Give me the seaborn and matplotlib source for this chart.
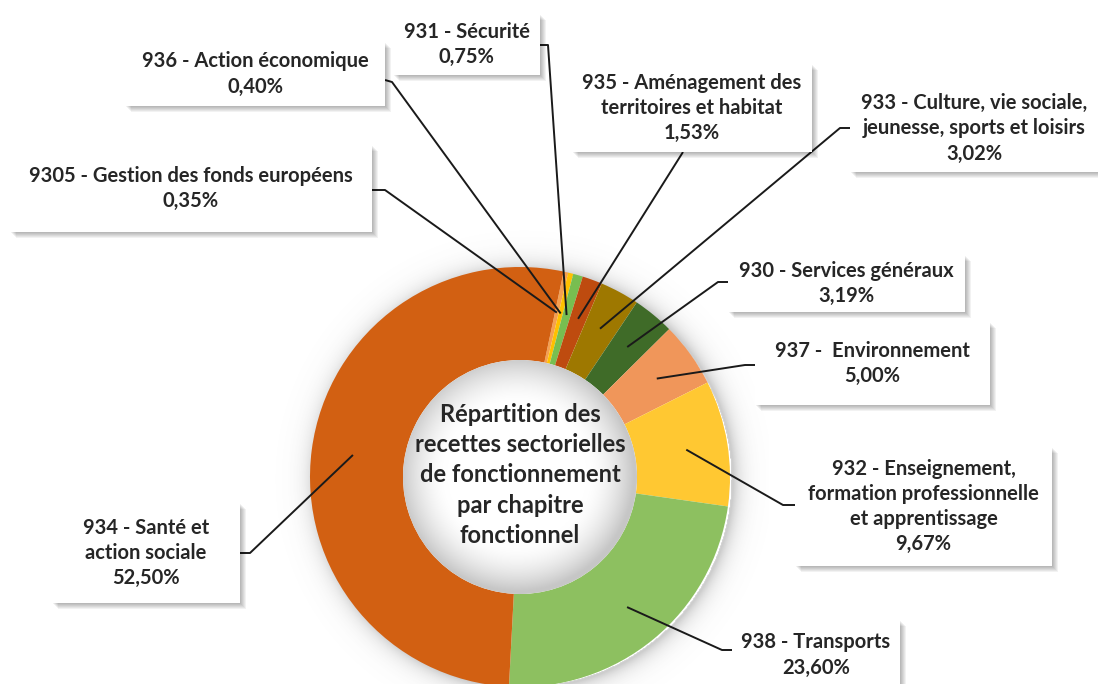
import numpy as np
import matplotlib
matplotlib.use("Agg")
import matplotlib.pyplot as plt
import seaborn as sns
from matplotlib.patches import Rectangle, Circle

sns.set_theme(style="white")
plt.rcParams['font.family'] = ['Lato', 'DejaVu Sans']

# ---------------- data ----------------
codes = ["9305", "936", "931", "935", "933", "930", "937", "932", "938", "934"]
names = [
    "9305 - Gestion des fonds européens",
    "936 - Action économique",
    "931 - Sécurité",
    "935 - Aménagement des\nterritoires et habitat",
    "933 - Culture, vie sociale,\njeunesse, sports et loisirs",
    "930 - Services généraux",
    "937 -  Environnement",
    "932 - Enseignement,\nformation professionnelle\net apprentissage",
    "938 - Transports",
    "934 - Santé et\naction sociale",
]
values = [0.35, 0.40, 0.75, 1.53, 3.02, 3.19, 5.00, 9.67, 23.60, 52.50]
pct_labels = ["0,35%", "0,40%", "0,75%", "1,53%", "3,02%", "3,19%", "5,00%", "9,67%", "23,60%", "52,50%"]
colors = ["#F5A050", "#FFC000", "#78BE50", "#BE4B0F", "#9E7800",
          "#3F6B28", "#F0965A", "#FFC832", "#8DC060", "#D26012"]
center_title = "Répartition des\nrecettes sectorielles\nde fonctionnement\npar chapitre\nfonctionnel"

# ---------------- layout (pixel coords, y from top) ----------------
W, H = 1098, 684
CX, CY = 520, 477
R_OUT, R_IN = 210, 117

# label boxes: (left, top, right, bottom)
boxes = {
    "9305": (10, 145, 372, 232),
    "936": (125, 42, 385, 106),
    "931": (393, 14, 540, 75),
    "935": (572, 64, 812, 152),
    "933": (850, 85, 1098, 172),
    "930": (728, 255, 965, 312),
    "937": (755, 322, 990, 405),
    "932": (795, 447, 1052, 566),
    "938": (732, 620, 900, 690),
    "934": (52, 503, 240, 603),
}
# leader line start and stub points
leaders = {
    "9305": [(372, 190), (385, 190)],
    "936": [(385, 80), (392, 82)],
    "931": [(540, 45), (548, 45)],
    "935": [(683, 152)],
    "933": [(850, 128), (840, 128)],
    "930": [(728, 282), (718, 282)],
    "937": [(755, 365), (745, 365)],
    "932": [(795, 505), (783, 505)],
    "938": [(732, 650), (722, 650)],
    "934": [(240, 553), (250, 553)],
}


def Y(y):
    return H - y


fig = plt.figure(figsize=(W / 100, H / 100), dpi=100)
ax = fig.add_axes([0, 0, 1, 1])

# soft outer shadow around the ring
xs = np.arange(CX - R_OUT - 40, CX + R_OUT + 40)
ys = np.arange(CY - R_OUT - 40, CY + R_OUT + 40)
XX, YY = np.meshgrid(xs, ys)
D = np.hypot(XX - CX - 4, YY - CY - 2)
alpha = np.where(D > R_OUT - 2, 0.30 * np.exp(-(D - R_OUT) / 9.0), 0.0)
img = np.zeros(D.shape + (4,))
img[..., :3] = 0.35
img[..., 3] = np.clip(alpha, 0, 0.3)
ax.imshow(img, extent=(xs[0], xs[-1], Y(ys[-1]), Y(ys[0])), origin='upper',
          zorder=0, interpolation='bilinear')

wedges, _ = ax.pie(values, colors=colors, startangle=78, counterclock=False,
                   center=(CX, Y(CY)), radius=R_OUT,
                   wedgeprops=dict(width=R_OUT - R_IN, linewidth=0), frame=True)
for w in wedges:
    w.set_zorder(2)

# inner hole shading (inner shadow)
hx = np.linspace(CX - R_IN, CX + R_IN, 300)
hy = np.linspace(CY - R_IN, CY + R_IN, 300)
HX, HY = np.meshgrid(hx, hy)
dd = np.hypot(HX - CX + 3, HY - CY + 3) / R_IN
shade = np.clip((dd - 0.6) / 0.4, 0, 1) ** 1.7
hole = np.ones(dd.shape + (3,))
hole = hole - shade[..., None] * (1 - 0.78)
him = ax.imshow(hole, extent=(hx[0], hx[-1], Y(hy[-1]), Y(hy[0])), origin='upper',
                zorder=3, interpolation='bilinear')
clip = Circle((CX, Y(CY)), R_IN, transform=ax.transData)
him.set_clip_path(clip)

ax.text(CX, Y(CY - 2), center_title, ha='center', va='center', fontsize=17,
        fontweight='bold', color='#262626', linespacing=1.37, zorder=5)

# leader lines to wedge midpoints
for code, w in zip(codes, wedges):
    mid = np.deg2rad((w.theta1 + w.theta2) / 2)
    r = (R_OUT + R_IN) / 2 + 5
    px = CX + r * np.cos(mid)
    py = Y(CY) + r * np.sin(mid)
    pts = [(x, Y(y)) for x, y in leaders[code]] + [(px, py)]
    ax.plot([p[0] for p in pts], [p[1] for p in pts], color='#1a1a1a', lw=1.4,
            zorder=6, solid_capstyle='butt')

# label boxes with drop shadow
for code, name, pct in zip(codes, names, pct_labels):
    l, t, r_, b = boxes[code]
    for k in range(6):
        off = 1.0 + k * 0.9
        ax.add_patch(Rectangle((l + off, Y(b) - off), r_ - l, b - t,
                               facecolor='#000000', alpha=0.05, lw=0, zorder=7))
    ax.add_patch(Rectangle((l, Y(b)), r_ - l, b - t, facecolor='white',
                           edgecolor='none', zorder=8))
    ax.text((l + r_) / 2, Y((t + b) / 2), name + "\n" + pct, ha='center', va='center',
            fontsize=14.5, fontweight='bold', color='#262626', linespacing=1.33, zorder=9)

ax.set_xlim(0, W)
ax.set_ylim(0, H)
ax.set_aspect('auto')
ax.axis('off')

fig.savefig("out.png", dpi=100, facecolor='white')
